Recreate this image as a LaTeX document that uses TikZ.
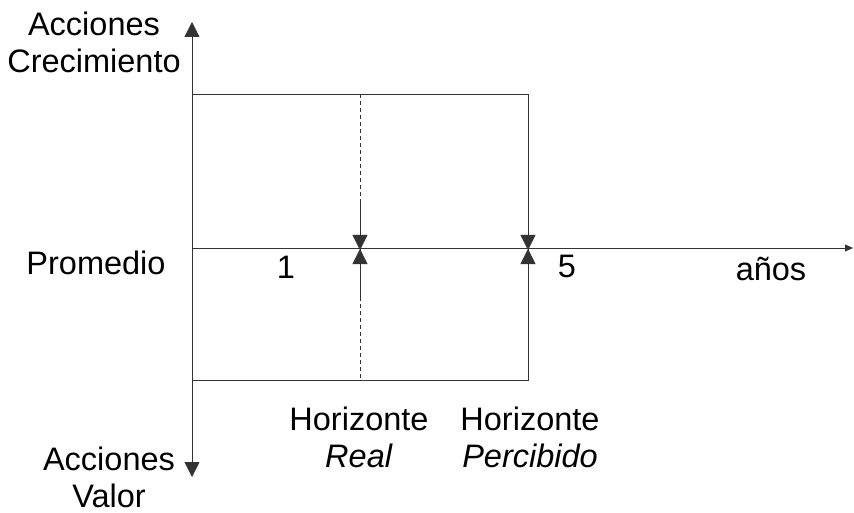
\documentclass[tikz,border=0pt]{standalone}
\usepackage{fontspec}
\setmainfont{Liberation Sans}
\usetikzlibrary{arrows.meta}
\begin{document}
\begin{tikzpicture}[x=1pt,y=-1pt,
  lbl/.style={font=\fontsize{32.5}{37}\selectfont, inner sep=0pt, align=center},
  ax/.style={line width=0.8pt, black!80},
  tip/.style={-{Triangle[width=15pt,length=15pt]}},
  smalltip/.style={-{Triangle[width=7pt,length=8pt]}}]
\useasboundingbox (0,0) rectangle (854,513);
% axes
\coordinate (o) at (192,248);
\coordinate (ytop) at (192,22);
\coordinate (ybot) at (192,477);
\coordinate (xend) at (853,248);
\draw[ax,tip] (192,300) -- (ytop);
\draw[ax,tip] (192,200) -- (ybot);
\draw[ax,smalltip] (o) -- (xend);
% rectangle
\coordinate (tl) at (192,94);
\coordinate (tr) at (528,94);
\coordinate (bl) at (192,380);
\coordinate (br) at (528,380);
\draw[ax] (tl) -- (tr) -- (br) -- (bl);
\coordinate (mt) at (360,94);
\coordinate (mb) at (360,380);
\draw[ax,dashed,dash pattern=on 4pt off 3pt] (mt) -- (mb);
% horizon arrows
\draw[ax,tip] (360,200) -- (360,250);
\draw[ax,tip] (360,300) -- (360,249);
\draw[ax,tip] (528,200) -- (528,250);
\draw[ax,tip] (528,300) -- (528,249);
% labels
\node[lbl] (crec) at (94,42) {Acciones\\Crecimiento};
\node[lbl] (prom) at (96,263) {Promedio};
\node[lbl] (uno) at (286,267) {1};
\node[lbl] (cinco) at (567,266) {5};
\node[lbl] (anos) at (771,269) {años};
\node[lbl] (hreal) at (359,437) {Horizonte\\\textit{Real}};
\node[lbl] (hperc) at (530,437) {Horizonte\\\textit{Percibido}};
\node[lbl] (valor) at (109,477) {Acciones\\Valor};
\end{tikzpicture}
\end{document}
